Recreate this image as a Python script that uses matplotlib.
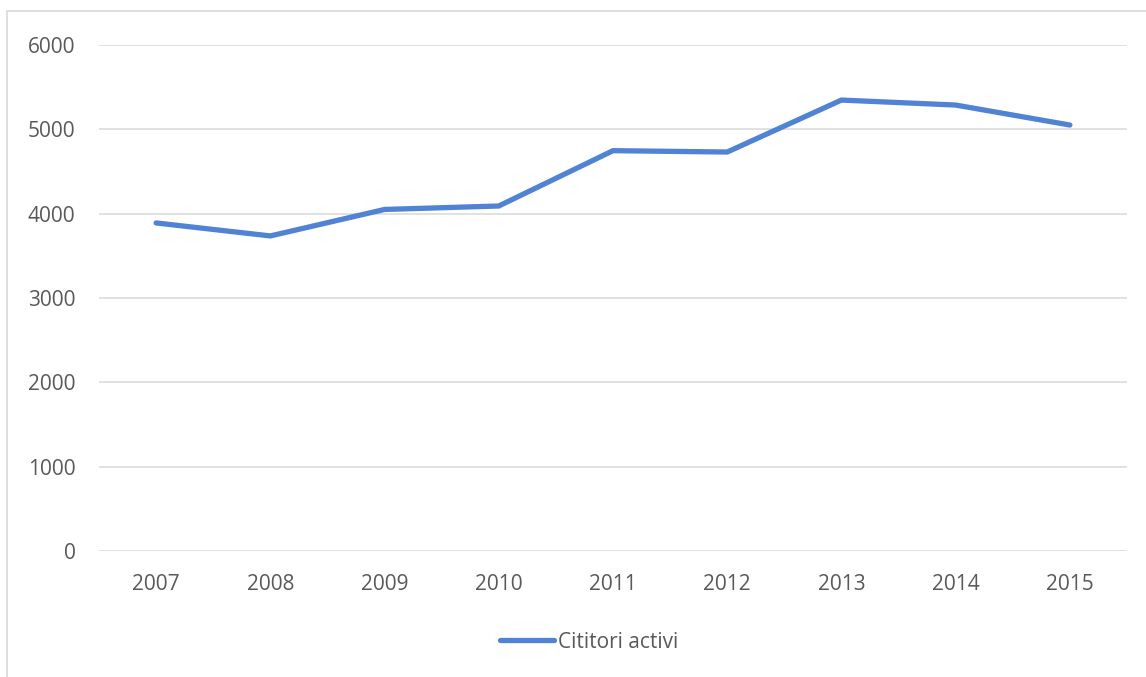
import matplotlib
matplotlib.use("Agg")
import matplotlib.pyplot as plt
from matplotlib.patches import Rectangle

years = ["2007", "2008", "2009", "2010", "2011", "2012", "2013", "2014", "2015"]
cititori = [3890, 3736, 4050, 4091, 4747, 4731, 5347, 5288, 5051]
yticks = [0, 1000, 2000, 3000, 4000, 5000, 6000]
series_label = "Cititori activi"

plt.rcParams['font.family'] = ['Open Sans', 'DejaVu Sans']
W, H = 1146, 677
fig = plt.figure(figsize=(W / 100, H / 100), dpi=100)
fig.patches.append(Rectangle((7 / W, -0.1), 1.2, 1 - 11 / H + 0.1, transform=fig.transFigure,
                             fill=False, edgecolor='#D9D9D9', linewidth=1.2))
ax = fig.add_axes([99 / W, 1 - 551 / H, (1127 - 99) / W, (551 - 45) / H])

x = list(range(len(years)))
ax.plot(x, cititori, color='#5083D3', linewidth=3.8, solid_capstyle='round',
        solid_joinstyle='miter', label=series_label, zorder=3)
ax.set_xlim(-0.5, len(years) - 0.5)
ax.set_ylim(0, 6000)
ax.set_yticks(yticks)
ax.set_yticklabels([str(v) for v in yticks])
ax.set_xticks(x)
ax.set_xticklabels(years)
ax.grid(axis='y', color='#D9D9D9', linewidth=1.1)
ax.set_axisbelow(True)
for s in ax.spines.values():
    s.set_visible(False)
ax.tick_params(axis='both', length=0, labelsize=15, labelcolor='#595959')
ax.tick_params(axis='y', pad=17)
ax.tick_params(axis='x', pad=16.5)

leg = fig.legend(loc='center', bbox_to_anchor=(589 / W, 1 - 642 / H), frameon=False,
                 fontsize=15, labelcolor='#595959', handlelength=2.6, handletextpad=0.2)
fig.savefig("out.png", dpi=100)
